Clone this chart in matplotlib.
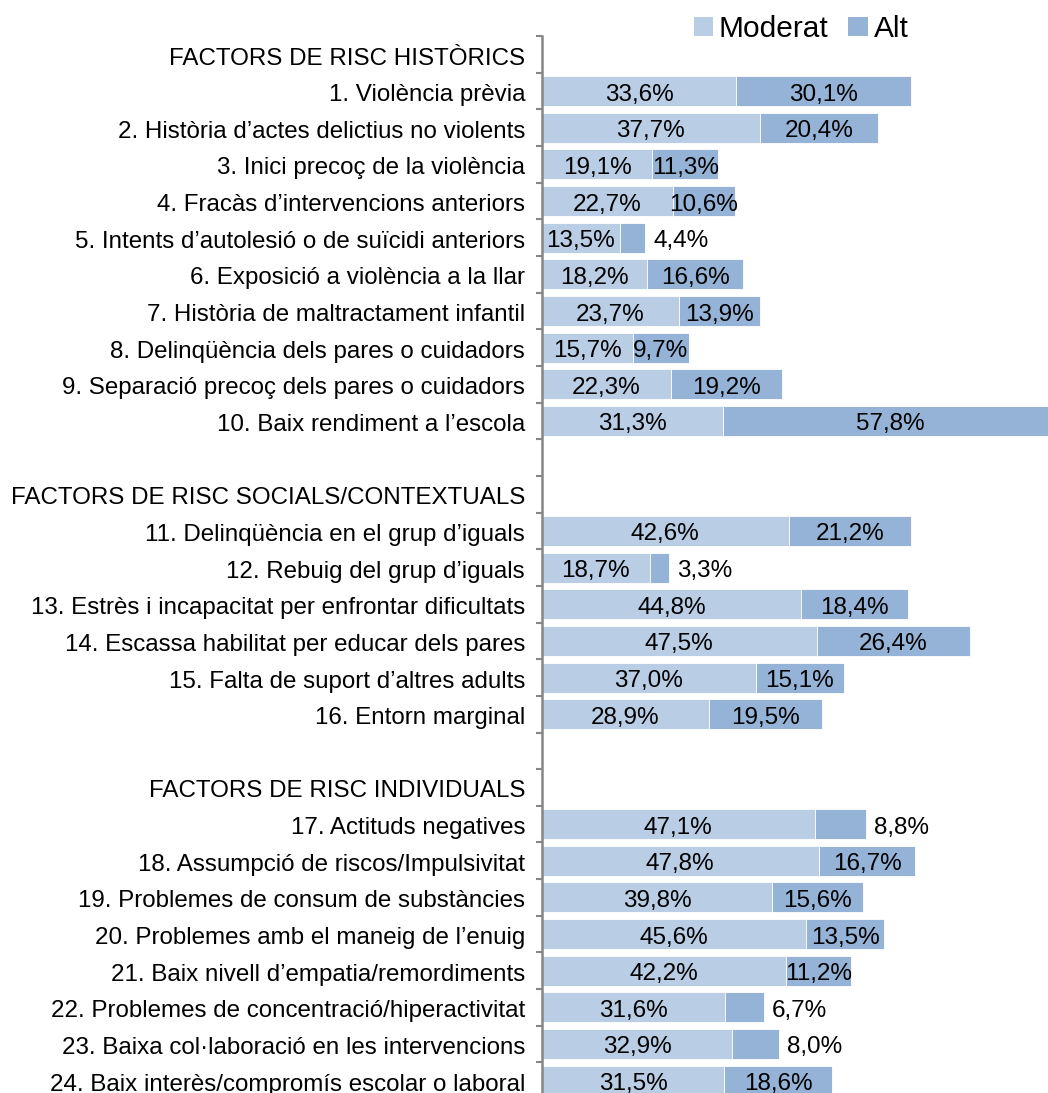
import numpy as np
import matplotlib
matplotlib.use("Agg")
import matplotlib.pyplot as plt
import matplotlib.transforms as mtransforms
from matplotlib.patches import Patch
from matplotlib.ticker import FixedLocator

plt.rcParams['font.family'] = ['Liberation Sans', 'DejaVu Sans']

categories = [
    "FACTORS DE RISC HISTÒRICS",
    "1. Violència prèvia",
    "2. Història d’actes delictius no violents",
    "3. Inici precoç de la violència",
    "4. Fracàs d’intervencions anteriors",
    "5. Intents d’autolesió o de suïcidi anteriors",
    "6. Exposició a violència a la llar",
    "7. Història de maltractament infantil",
    "8. Delinqüència dels pares o cuidadors",
    "9. Separació precoç dels pares o cuidadors",
    "10. Baix rendiment a l’escola",
    "",
    "FACTORS DE RISC SOCIALS/CONTEXTUALS",
    "11. Delinqüència en el grup d’iguals",
    "12. Rebuig del grup d’iguals",
    "13. Estrès i incapacitat per enfrontar dificultats",
    "14. Escassa habilitat per educar dels pares",
    "15. Falta de suport d’altres adults",
    "16. Entorn marginal",
    "",
    "FACTORS DE RISC INDIVIDUALS",
    "17. Actituds negatives",
    "18. Assumpció de riscos/Impulsivitat",
    "19. Problemes de consum de substàncies",
    "20. Problemes amb el maneig de l’enuig",
    "21. Baix nivell d’empatia/remordiments",
    "22. Problemes de concentració/hiperactivitat",
    "23. Baixa col·laboració en les intervencions",
    "24. Baix interès/compromís escolar o laboral",
]

N = np.nan
moderat = [N, 33.6, 37.7, 19.1, 22.7, 13.5, 18.2, 23.7, 15.7, 22.3, 31.3,
           N, N, 42.6, 18.7, 44.8, 47.5, 37.0, 28.9,
           N, N, 47.1, 47.8, 39.8, 45.6, 42.2, 31.6, 32.9, 31.5]
alt = [N, 30.1, 20.4, 11.3, 10.6, 4.4, 16.6, 13.9, 9.7, 19.2, 57.8,
       N, N, 21.2, 3.3, 18.4, 26.4, 15.1, 19.5,
       N, N, 8.8, 16.7, 15.6, 13.5, 11.2, 6.7, 8.0, 18.6]

series_names = ["Moderat", "Alt"]
c_mod = "#B9CDE5"
c_alt = "#95B3D7"

W, H = 1048, 1093
fig = plt.figure(figsize=(W / 100, H / 100), dpi=100)
top_px, bot_px = 36.2, 1099.0
ax_left_px = 541.7
ax = fig.add_axes([ax_left_px / W, 1 - bot_px / H, (W - ax_left_px) / W, (bot_px - top_px) / H])

y = np.arange(len(categories))
mod = np.array(moderat, dtype=float)
al = np.array(alt, dtype=float)
bh = 0.82
ax.barh(y, mod, height=bh, color=c_mod, edgecolor="white", linewidth=0.6)
ax.barh(y, al, left=mod, height=bh, color=c_alt, edgecolor="white", linewidth=0.6)

ax.set_xlim(0, (W - ax_left_px) / 5.795)
ax.set_ylim(len(categories) - 0.5, -0.5)

fs_lab = 17.4
fs_val = 17.5
dy = -2.5
def fmt(v):
    return f"{v:.1f}%".replace(".", ",")

for i in range(len(categories)):
    m, a = mod[i], al[i]
    if np.isnan(m):
        continue
    ax.annotate(fmt(m), xy=(m / 2, i), xytext=(0, dy), textcoords="offset points",
                ha="center", va="center", fontsize=fs_val, color="black")
    if a < 9:
        ax.annotate(fmt(a), xy=(m + a, i), xytext=(6, dy), textcoords="offset points",
                    ha="left", va="center", fontsize=fs_val, color="black", annotation_clip=False)
    else:
        ax.annotate(fmt(a), xy=(m + a / 2, i), xytext=(0, dy), textcoords="offset points",
                    ha="center", va="center", fontsize=fs_val, color="black")

ax.set_yticks(y)
ax.set_yticklabels(categories, fontsize=fs_lab)
ax.tick_params(axis="y", which="major", length=0, pad=12)
shift = mtransforms.ScaledTranslation(0, -1.5 / 100, fig.dpi_scale_trans)
for lbl in ax.get_yticklabels():
    lbl.set_transform(lbl.get_transform() + shift)
ax.yaxis.set_minor_locator(FixedLocator(np.arange(-0.5, len(categories), 1.0)))
ax.tick_params(axis="y", which="minor", length=4, width=1.5, color="#868686", direction="out")
ax.set_xticks([])
for s in ["top", "right", "bottom"]:
    ax.spines[s].set_visible(False)
ax.spines["left"].set_color("#868686")
ax.spines["left"].set_linewidth(1.8)

handles = [Patch(facecolor=c_mod, edgecolor="none"), Patch(facecolor=c_alt, edgecolor="none")]
fig.legend(handles, series_names, loc="center", bbox_to_anchor=(801 / W, 1 - 29 / H),
           ncol=2, frameon=False, fontsize=21.5, handlelength=0.65, handleheight=0.65,
           handletextpad=0.2, columnspacing=0.65, borderpad=0)

fig.savefig("out.png", dpi=100)
